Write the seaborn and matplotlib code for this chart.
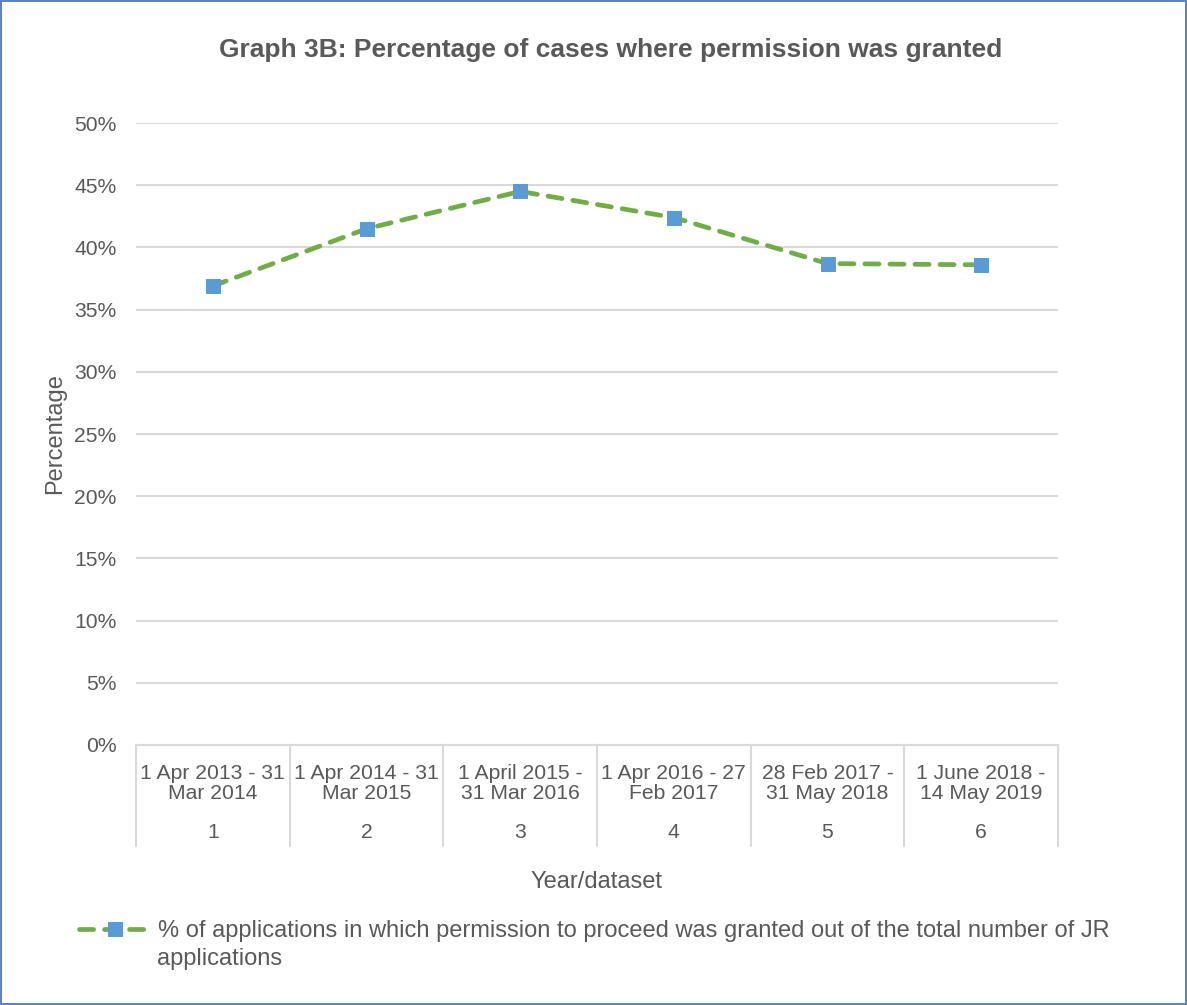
import matplotlib
matplotlib.use("Agg")
import matplotlib.pyplot as plt
import seaborn as sns
import pandas as pd

# Dados do gráfico
periodos = ["1 Apr 2013 - 31\nMar 2014", "1 Apr 2014 - 31\nMar 2015", "1 April 2015 -\n31 Mar 2016",
            "1 Apr 2016 - 27\nFeb 2017", "28 Feb 2017 -\n31 May 2018", "1 June 2018 -\n14 May 2019"]
datasets = ["1", "2", "3", "4", "5", "6"]
percentuais = [36.9, 41.5, 44.5, 42.4, 38.7, 38.6]
serie = "% of applications in which permission to proceed was granted out of the total number of JR\napplications"

df = pd.DataFrame({"pos": range(len(periodos)), "valor": percentuais})

sns.set_theme(style="white")
plt.rcParams["font.family"] = ["Liberation Sans", "DejaVu Sans"]
cinza = "#595959"

fig = plt.figure(figsize=(11.87, 10.05), dpi=100)
fig.patch.set_edgecolor("#5b84c4")
fig.patch.set_linewidth(1.5)
ax = fig.add_axes([136 / 1187, 1 - 745 / 1005, (1058 - 136) / 1187, (745 - 123) / 1005])

linha1, linha2 = serie.split("\n")
sns.lineplot(data=df, x="pos", y="valor", ax=ax, color="#70ad47", linewidth=3.4,
             linestyle=(0, (3, 2.3)), dash_capstyle="round", marker="s", markersize=10.5,
             markerfacecolor="#5b9bd5", markeredgecolor="#5b9bd5", label=linha1,
             legend=False, zorder=3)

ax.set_ylim(0, 50)
ax.set_xlim(-0.5, len(periodos) - 0.5)
ax.set_yticks(range(0, 51, 5))
ax.set_yticklabels([f"{v}%" for v in range(0, 51, 5)], color=cinza, fontsize=15.2)
ax.yaxis.grid(True, color="#d9d9d9", linewidth=1.5)
ax.set_axisbelow(True)
ax.tick_params(axis="y", length=0, pad=14)

ax.set_xticks(range(len(periodos)))
ax.set_xticklabels(periodos, color=cinza, fontsize=15.2, linespacing=1.02, va="top")
ax.tick_params(axis="x", length=0, pad=14)

# segundo nível do eixo x (número do dataset)
for i, d in enumerate(datasets):
    ax.text(i, -(833 - 745) / 622, d, transform=ax.get_xaxis_transform(), color=cinza,
            fontsize=15.2, ha="center", va="center")

for s in ["left", "right", "top"]:
    ax.spines[s].set_visible(False)
ax.spines["bottom"].set_color("#d9d9d9")
ax.spines["bottom"].set_linewidth(1.5)

# separadores verticais das categorias
for i in range(len(periodos) + 1):
    ax.plot([i - 0.5, i - 0.5], [0, -(846 - 745) / 622], color="#d9d9d9", linewidth=1.5,
            clip_on=False, transform=ax.get_xaxis_transform())

ax.set_xlabel("")
ax.set_ylabel("")
fig.text(55 / 1187, 1 - 434 / 1005, "Percentage", rotation=90, color=cinza, fontsize=17,
         ha="center", va="center")
fig.text(597 / 1187, 1 - 882 / 1005, "Year/dataset", color=cinza, fontsize=17,
         ha="center", va="center")
fig.text(611 / 1187, 1 - 50 / 1005, "Graph 3B: Percentage of cases where permission was granted",
         color=cinza, fontsize=19, fontweight="bold", ha="center", va="center")

handles, labels = ax.get_legend_handles_labels()
leg = fig.legend(handles, labels, loc="upper left", bbox_to_anchor=(58 / 1187, 1 - 899 / 1005),
                 frameon=False, fontsize=17, handlelength=3.0, handletextpad=0.35,
                 labelcolor=cinza)
# segunda linha da legenda
fig.text(157 / 1187, 1 - 959 / 1005, linha2, color=cinza, fontsize=17, ha="left", va="center")

fig.savefig("out.png", dpi=100)
